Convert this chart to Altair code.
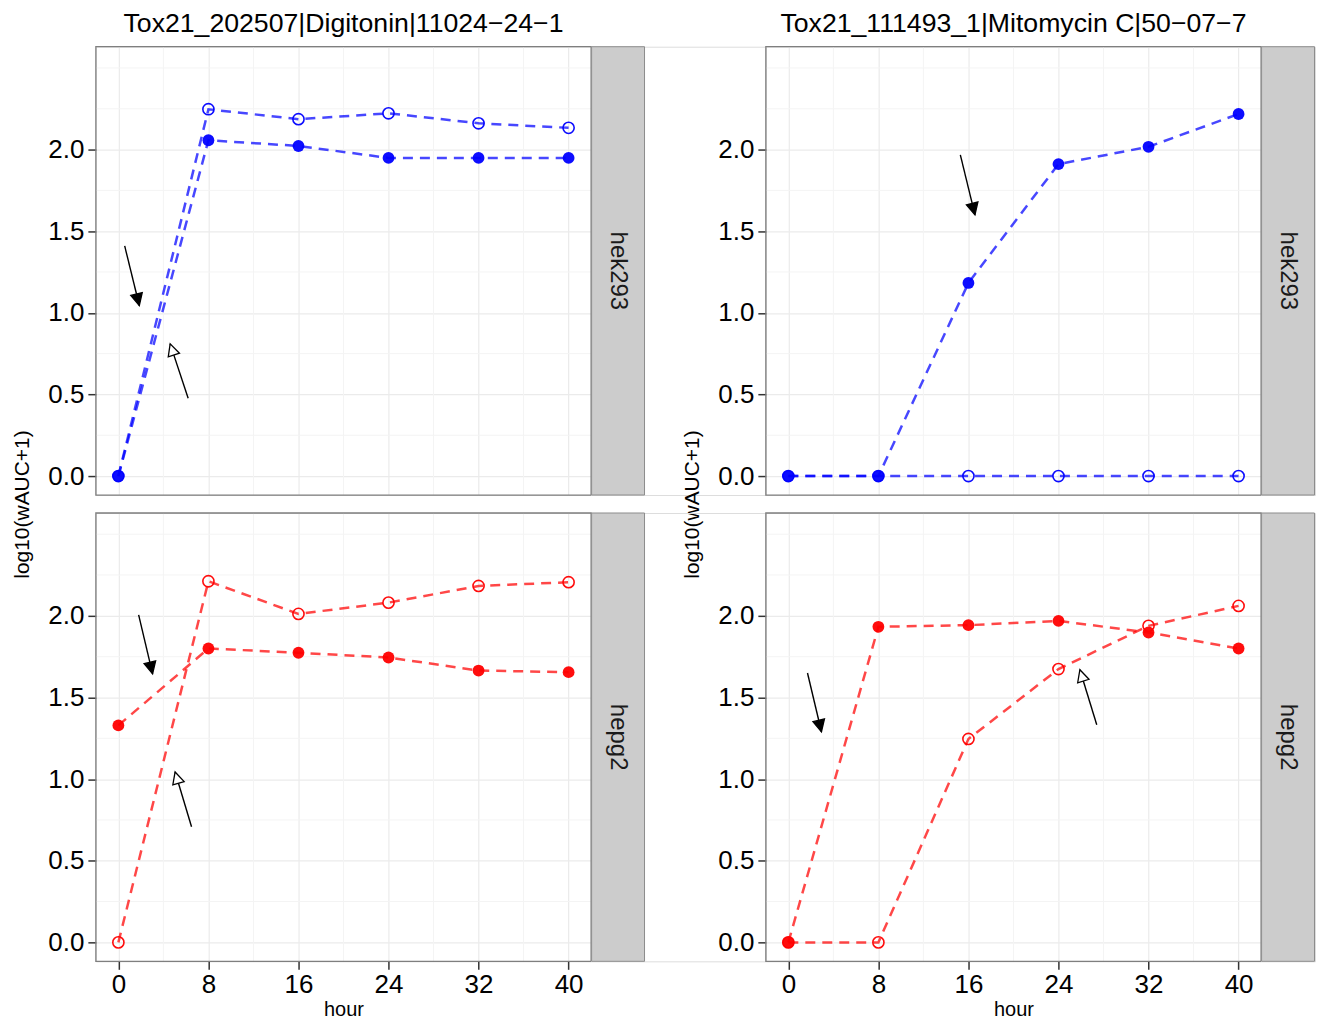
import math
import altair as alt
import pandas as pd

# ---------------- data ----------------
hours = [0, 8, 16, 24, 32, 40]
panel_titles = ["Tox21_202507|Digitonin|11024\u221224\u22121",
                "Tox21_111493_1|Mitomycin C|50\u221207\u22127"]
cell_lines = ["hek293", "hepg2"]
cell_colors = ["#0000FF", "#FF0000"]

# Digitonin
dig_hek_filled = [0.0, 2.057, 2.022, 1.949, 1.949, 1.949]
dig_hek_open = [0.0, 2.247, 2.186, 2.222, 2.161, 2.133]
dig_hep_filled = [1.329, 1.800, 1.774, 1.745, 1.665, 1.655]
dig_hep_open = [0.0, 2.212, 2.012, 2.081, 2.183, 2.206]
# Mitomycin C
mit_hek_filled = [0.0, 0.0, 1.183, 1.911, 2.017, 2.218]
mit_hek_open = [0.0, 0.0, 0.0, 0.0, 0.0, 0.0]
mit_hep_filled = [0.0, 1.933, 1.943, 1.969, 1.898, 1.800]
mit_hep_open = [0.0, 0.0, 1.246, 1.674, 1.939, 2.061]

# annotation arrows: start hour, start value, end hour, end value, head type
dig_hek_arrows = [(0.56, 1.41, 1.86, 1.045, "filled"), (6.2, 0.477, 4.6, 0.81, "open")]
dig_hep_arrows = [(1.8, 2.006, 3.04, 1.645, "filled"), (6.5, 0.708, 5.04, 1.044, "open")]
mit_hek_arrows = [(15.28, 1.968, 16.58, 1.60, "filled")]
mit_hep_arrows = [(1.7, 1.65, 2.94, 1.29, "filled"), (27.4, 1.333, 25.9, 1.67, "open")]

x_major = [0, 8, 16, 24, 32, 40]
x_minor = [4, 12, 20, 28, 36]
y_major = [0.0, 0.5, 1.0, 1.5, 2.0]
y_minor = [0.25, 0.75, 1.25, 1.75, 2.25, 2.5]
x_domain = [-2, 42]
y_domain = [-0.116, 2.63]

# ---------------- layout / style ----------------
W, H = 496, 449
ROW_GAP = 18
FONT = "Liberation Sans"
HEAD_PATH = "M0,0L-0.5,1L0.5,1Z"

sx = W / (x_domain[1] - x_domain[0])
sy = H / (y_domain[1] - y_domain[0])

xscale = alt.Scale(domain=x_domain, nice=False, zero=False)
yscale = alt.Scale(domain=y_domain, nice=False, zero=False)

TICK_FS = 26


def make_panel(filled, opened, color, arrows, top_row, title=None):
    if top_row:
        x_axis = alt.Axis(values=x_major, grid=True, labels=False, ticks=False,
                          domain=False, title="", gridColor="#EBEBEB", gridWidth=1.2)
        y_axis = alt.Axis(values=y_major, format=".1f", grid=True, domain=False,
                          title="log10(wAUC+1)", titleX=-73, titleY=(2 * H + ROW_GAP) / 2,
                          titleBaseline="middle", titleAngle=270, titleFontSize=21,
                          titleFontWeight="normal", titleColor="black",
                          labelFontSize=TICK_FS, labelColor="black", labelPadding=4,
                          tickSize=8, tickWidth=1.5, tickColor="#333333",
                          gridColor="#EBEBEB", gridWidth=1.2)
    else:
        x_axis = alt.Axis(values=x_major, grid=True, domain=False, title="hour",
                          titleFontSize=20, titleFontWeight="normal", titleColor="black",
                          titlePadding=2, labelFontSize=TICK_FS, labelColor="black",
                          labelPadding=2, tickSize=8, tickWidth=1.5, tickColor="#333333",
                          gridColor="#EBEBEB", gridWidth=1.2)
        y_axis = alt.Axis(values=y_major, format=".1f", grid=True, domain=False,
                          title="", labelFontSize=TICK_FS, labelColor="black", labelPadding=4,
                          tickSize=8, tickWidth=1.5, tickColor="#333333",
                          gridColor="#EBEBEB", gridWidth=1.2)

    xe = alt.X("hour:Q", scale=xscale, axis=x_axis)
    ye = alt.Y("value:Q", scale=yscale, axis=y_axis)

    df = pd.DataFrame({
        "hour": hours + hours,
        "value": filled + opened,
        "series": ["filled"] * len(hours) + ["open"] * len(hours),
    })

    minor_x = alt.Chart(pd.DataFrame({"hour": x_minor})).mark_rule(
        color="#F4F4F4", strokeWidth=1).encode(x=xe)
    minor_y = alt.Chart(pd.DataFrame({"value": y_minor})).mark_rule(
        color="#F4F4F4", strokeWidth=1).encode(y=ye)

    lines = alt.Chart(df).mark_line(
        color=color, strokeDash=[10, 7], strokeWidth=2.5, opacity=0.72
    ).encode(x=xe, y=ye, detail="series:N")

    pts_f = alt.Chart(df[df.series == "filled"]).mark_point(
        filled=True, color=color, size=140, opacity=0.95, shape="circle"
    ).encode(x=xe, y=ye)
    pts_o = alt.Chart(df[df.series == "open"]).mark_point(
        filled=False, color=color, size=125, strokeWidth=1.6, opacity=0.95, shape="circle"
    ).encode(x=xe, y=ye)

    layers = [minor_x, minor_y, lines, pts_o, pts_f]

    if arrows:
        rows = []
        for (x1, y1, x2, y2, kind) in arrows:
            ang = math.degrees(math.atan2((x2 - x1) * sx, (y2 - y1) * sy)) % 360
            rows.append({"hour": x1, "value": y1, "hour2": x2, "value2": y2,
                         "angle": ang, "fillc": "black" if kind == "filled" else "white"})
        adf = pd.DataFrame(rows)
        shafts = alt.Chart(adf).mark_rule(color="black", strokeWidth=1.4).encode(
            x=xe, y=ye, x2="hour2:Q", y2="value2:Q")
        hdf = adf.assign(hour=adf.hour2, value=adf.value2)
        heads = alt.Chart(hdf).mark_point(
            shape=HEAD_PATH, size=560, filled=True, stroke="black", strokeWidth=1.3, opacity=1
        ).encode(x=xe, y=ye, angle=alt.Angle("angle:Q", scale=None),
                 fill=alt.Fill("fillc:N", scale=None))
        layers += [shafts, heads]

    border = alt.Chart(pd.DataFrame({"b": [0]})).mark_rect(
        fillOpacity=0, stroke="#7F7F7F", strokeWidth=1.3
    ).encode(x=alt.value(0), x2=alt.value(W), y=alt.value(0), y2=alt.value(H))
    layers.append(border)

    ch = alt.layer(*layers).properties(width=W, height=H)
    if title is not None:
        ch = ch.properties(title=alt.TitleParams(
            title, fontSize=26.7, font=FONT, fontWeight="normal", color="black",
            anchor="middle", offset=8))
    return ch


def make_strip(label, width):
    sdf = pd.DataFrame({"label": [label]})
    rect = alt.Chart(sdf).mark_rect(fill="#CCCCCC", stroke="#8C8C8C", strokeWidth=1).encode(
        x=alt.value(0.5), x2=alt.value(53.5), y=alt.value(0), y2=alt.value(H))
    txt = alt.Chart(sdf).mark_text(
        angle=90, fontSize=24, font=FONT, color="#1A1A1A", align="center", baseline="middle"
    ).encode(x=alt.value(27), y=alt.value(H / 2), text="label:N")
    return alt.layer(rect, txt).properties(width=width, height=H)


panels = [
    make_panel(dig_hek_filled, dig_hek_open, cell_colors[0], dig_hek_arrows, True, panel_titles[0]),
    make_strip(cell_lines[0], 175),
    make_panel(mit_hek_filled, mit_hek_open, cell_colors[0], mit_hek_arrows, True, panel_titles[1]),
    make_strip(cell_lines[0], 54),
    make_panel(dig_hep_filled, dig_hep_open, cell_colors[1], dig_hep_arrows, False),
    make_strip(cell_lines[1], 175),
    make_panel(mit_hep_filled, mit_hep_open, cell_colors[1], mit_hep_arrows, False),
    make_strip(cell_lines[1], 54),
]

chart = alt.concat(*panels, columns=4, spacing={"row": ROW_GAP, "column": 0}, bounds="flush").properties(
    padding={"left": 3, "top": 2, "right": 0, "bottom": 0}
).configure_view(stroke="transparent").configure(font=FONT)

chart.save("out.html", embed_options={"renderer": "svg", "actions": False})
